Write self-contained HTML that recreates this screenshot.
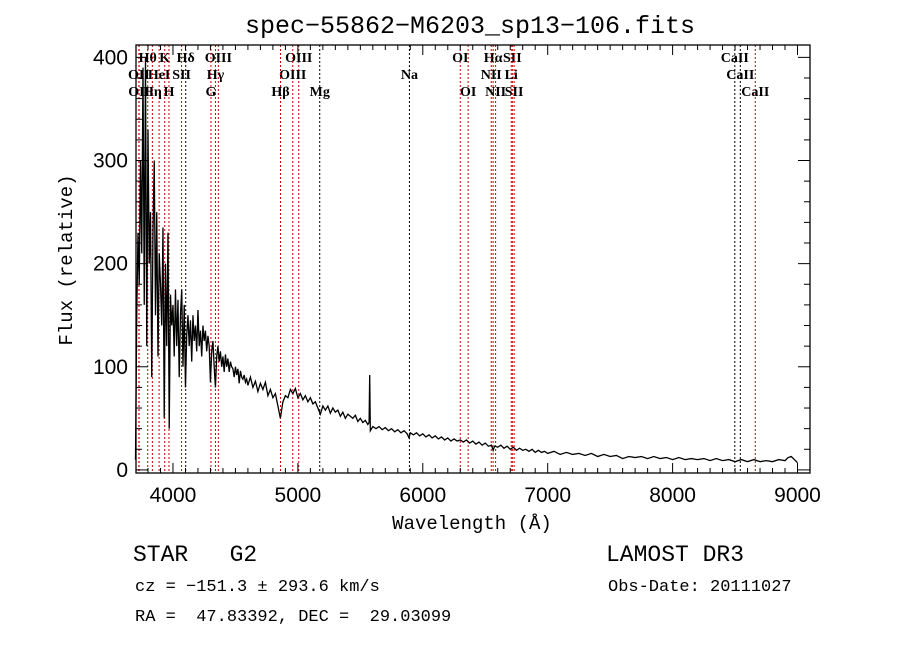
<!DOCTYPE html>
<html><head><meta charset="utf-8"><style>
body{margin:0;background:#fff;width:900px;height:649px;overflow:hidden}
svg{display:block}
text{white-space:pre}
.t{font-family:"Liberation Sans",sans-serif;font-size:21px;fill:#000}
.m{font-family:"Liberation Mono",monospace;fill:#000}
.l{font-family:"Liberation Serif",serif;font-size:14px;font-weight:bold;fill:#000}
</style></head><body>
<svg id="c" width="900" height="649">
<text class="m" x="470" y="33" font-size="25" text-anchor="middle">spec−55862−M6203_sp13−106.fits</text>
<text class="m" x="472" y="529" font-size="19" text-anchor="middle">Wavelength (Å)</text>
<text class="m" x="72" y="260" font-size="19" text-anchor="middle" transform="rotate(-90 72 260)">Flux (relative)</text>
<text class="m" x="133" y="561" font-size="23" xml:space="preserve">STAR   G2</text>
<text class="m" x="606" y="561" font-size="23">LAMOST DR3</text>
<text class="m" x="135" y="591" font-size="17" xml:space="preserve">cz = −151.3 ± 293.6 km/s</text>
<text class="m" x="608" y="591" font-size="17">Obs-Date: 20111027</text>
<text class="m" x="135" y="621" font-size="17" xml:space="preserve">RA =  47.83392, DEC =  29.03099</text>
<g id="plot"></g>
</svg>
<script>
const xTicks=[4000,5000,6000,7000,8000,9000];
const yTicks=[0,100,200,300,400];
const lineWaves=[3798,3934,4102,4363,5007,6300,6563,6717,8498,3727,3889,4069,4340,4959,5893,6548,6708,8542,3729,3835,3968,4304,4861,5175,6363,6583,6731,8662];
const lineLabels=["Hθ","K","Hδ","OIII","OIII","OI","Hα","SII","CaII","OII","HeI","SII","Hγ","OIII","Na","NII","Li","CaII","OII","Hη","H","G","Hβ","Mg","OI","NII","SII","CaII"];
const lineRows=[0,0,0,0,0,0,0,0,0,1,1,1,1,1,1,1,1,1,2,2,2,2,2,2,2,2,2,2];
const lineBlack=[0,0,1,0,0,0,0,0,1,0,0,0,0,0,1,0,0,1,0,0,0,0,0,1,0,0,0,0];
const spec=[[3700,10],[3710,150],[3720,230],[3730,180],[3740,300],[3750,210],[3760,390],[3770,160],[3780,400],[3790,120],[3800,330],[3810,200],[3820,250],[3830,90],[3840,230],[3850,300],[3860,150],[3870,250],[3880,110],[3890,210],[3900,180],[3910,140],[3920,235],[3930,50],[3940,200],[3950,120],[3960,230],[3970,40],[3980,170],[3990,140],[4000,160],[4010,110],[4020,175],[4030,120],[4040,165],[4050,90],[4060,150],[4070,175],[4080,100],[4090,160],[4100,80],[4110,130],[4120,150],[4130,120],[4140,145],[4150,105],[4160,150],[4170,125],[4180,140],[4190,115],[4200,155],[4210,120],[4220,135],[4230,110],[4240,140],[4250,125],[4260,135],[4270,115],[4280,130],[4290,120],[4300,85],[4310,115],[4320,125],[4330,100],[4340,80],[4350,110],[4360,120],[4370,105],[4380,115],[4390,100],[4400,110],[4410,95],[4420,112],[4430,100],[4440,108],[4450,95],[4460,105],[4470,100],[4480,98],[4490,90],[4500,100],[4510,92],[4520,98],[4530,84],[4540,96],[4550,90],[4560,88],[4570,92],[4580,85],[4590,88],
[4600,82],[4620,90],[4640,80],[4660,86],[4680,76],[4700,84],[4720,78],[4740,85],[4760,72],[4780,78],[4800,70],[4820,74],[4840,62],[4860,50],[4880,66],[4900,72],[4920,70],[4940,78],[4960,74],[4980,79],[5000,70],[5020,74],[5040,68],[5060,72],[5080,66],[5100,70],[5120,64],[5140,66],[5160,60],[5180,54],[5200,62],[5220,58],[5240,62],[5260,55],[5280,60],[5300,56],[5320,58],[5340,52],[5360,56],[5380,50],[5400,54],[5420,52],[5440,50],[5460,53],[5480,47],[5500,50],[5520,46],[5540,48],[5560,44],[5570,46],[5575,92],[5580,38],[5600,42],
[5625,40],[5650,42],[5675,39],[5700,41],[5725,38],[5750,40],[5775,37],[5800,39],[5825,36],[5850,38],[5875,35],[5890,31],[5900,36],[5925,34],[5950,36],[5975,33],[6000,35],[6025,32],[6050,34],[6075,31],[6100,33],[6125,30],[6150,32],[6175,29],[6200,31],[6225,28],[6250,30],[6275,28],[6300,29],[6325,27],[6350,29],[6375,26],[6400,28],[6425,25],[6450,27],[6475,24],[6500,26],[6525,23],[6550,24],[6563,19],[6575,23],[6600,22],[6625,24],[6650,21],[6675,23],[6700,20],[6725,22],[6750,19],[6775,21],[6800,19],[6825,20],[6850,18],[6875,20],[6900,17],[6925,19],[6950,17],[6975,18],[7000,16],
[7050,18],[7100,15],[7150,17],[7200,15],[7250,16],[7300,14],[7350,16],[7400,13],[7450,15],[7500,13],[7550,14],[7600,11],[7650,13],[7700,12],[7750,13],[7800,11],[7850,13],[7900,11],[7950,12],[8000,10],[8050,12],[8100,10],[8150,11],[8200,10],[8250,11],[8300,9],[8350,11],[8400,9],[8450,10],[8500,8],[8550,10],[8600,8],[8650,10],[8700,8],[8750,9],[8800,8],[8850,10],[8900,9],[8925,12],[8950,13],[8975,10],[9000,7]];
const L=136,R=810,T=45,B=473;
const X0=3704,X1=9100,Y0=-3,Y1=412;
const sx=w=>L+(w-X0)/(X1-X0)*(R-L);
const sy=v=>B-(v-Y0)/(Y1-Y0)*(B-T);
const g=document.getElementById('plot');
const NS='http://www.w3.org/2000/svg';
function mk(t,a){const e=document.createElementNS(NS,t);for(const k in a)e.setAttribute(k,a[k]);g.appendChild(e);return e;}
lineWaves.forEach((w,i)=>{
 const x=sx(w);
 const ln=mk('line',{x1:x,x2:x,y1:T,y2:B,stroke:lineBlack[i]?'#000':'#c00','stroke-width':1,'stroke-dasharray':'2,2'});
 
 
 const tx=mk('text',{x:x,y:62+lineRows[i]*17,'text-anchor':'middle',class:'l'});
 tx.textContent=lineLabels[i];
 
 
});
const p=mk('polyline',{points:spec.map(d=>sx(d[0])+','+sy(d[1])).join(' '),fill:'none',stroke:'#000','stroke-width':1.3});


const fr=mk('rect',{x:L,y:T,width:R-L,height:B-T,fill:'none',stroke:'#000','stroke-width':1.3});


for(let w=3800;w<=9100;w+=100){const x=sx(w);const major=w%1000==0;const len=major?10:5;
 const a=mk('line',{x1:x,x2:x,y1:B,y2:B-len,stroke:'#000'});
 const b=mk('line',{x1:x,x2:x,y1:T,y2:T+len,stroke:'#000'});}
xTicks.forEach(w=>{const t=mk('text',{x:sx(w),y:B+29,'text-anchor':'middle',class:'t'});t.textContent=w;
 });
for(let v=0;v<=400;v+=20){const y=sy(v);const len=v%100==0?12:6;
 const a=mk('line',{x1:L,x2:L+len,y1:y,y2:y,stroke:'#000'});
 const b=mk('line',{x1:R,x2:R-len,y1:y,y2:y,stroke:'#000'});}
yTicks.forEach(v=>{const t=mk('text',{x:L-8,y:sy(v)+7,'text-anchor':'end',class:'t'});t.textContent=v;
 });
</script>
</body></html>
